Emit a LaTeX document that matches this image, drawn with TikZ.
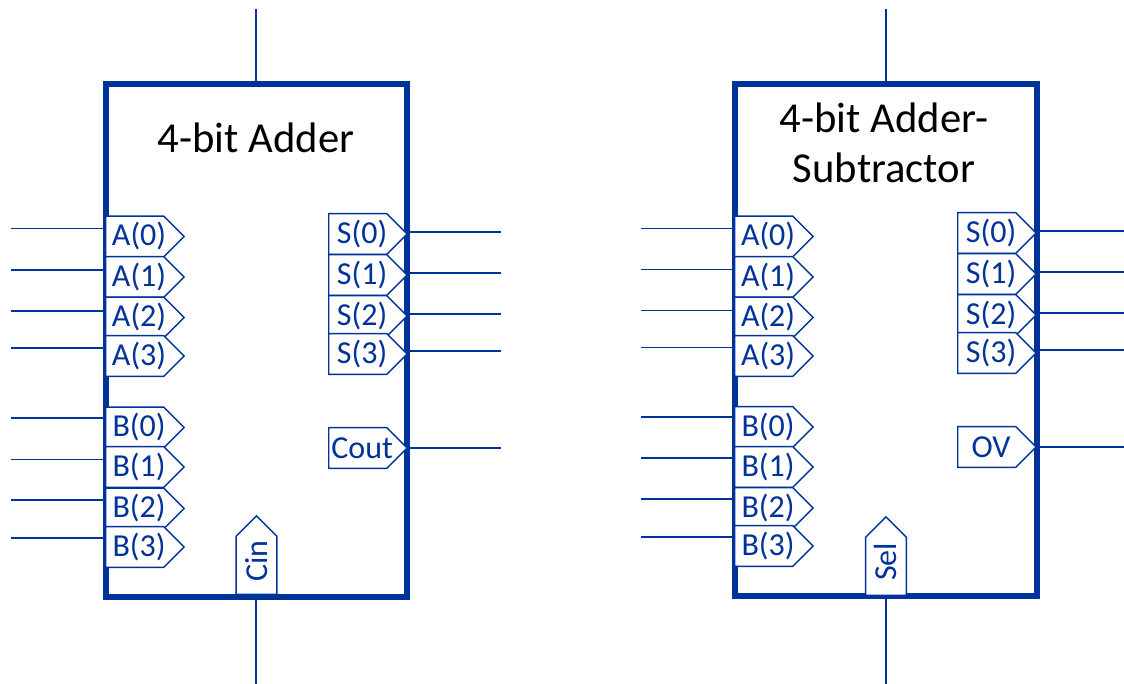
\documentclass[tikz,border=0pt]{standalone}
\usepackage{fontspec}
\setmainfont{Carlito}
\usetikzlibrary{shapes.symbols}

\definecolor{adderblue}{RGB}{0,51,153}
\newcommand{\pintext}[1]{\makebox[43.5pt]{\hspace{6.5pt}\rule[-1pt]{0pt}{18pt}#1}}
\tikzset{
	blockbox/.style={draw=adderblue,line width=4.5pt,minimum width=226pt,minimum height=384pt,inner sep=0pt},
	wire/.style={draw=adderblue,line width=1.1pt},
	pintag/.style={signal,signal to=east,signal from=nowhere,signal pointer angle=90,draw=adderblue,fill=white,line width=1.1pt,
		text=adderblue,font=\fontsize{24}{28}\selectfont,inner sep=0pt,minimum height=30.5pt,anchor=west},
	title/.style={text=black,align=center,font=\fontsize{32}{37.5}\selectfont}
}

\begin{document}
\begin{tikzpicture}[x=0.75pt,y=-0.75pt]
	\useasboundingbox (0,0) rectangle (1124,684);

	% 4-bit adder
	\node[blockbox] (adder) at (256.5,340.5) {};
	\node[title] (addertitle) at (256,138) {4-bit Adder};

	\coordinate (addertop) at (256,9);
	\coordinate (adderbot) at (256,684);
	\draw[wire] (addertop) -- (addertop |- adder.north);
	\draw[wire] (adderbot) -- (adderbot |- adder.south);

	\foreach \n/\y/\w in {0/236.5/228.5,1/277/270,2/317.5/311,3/356/348}
	{
		\coordinate (ina\n) at (11,\w);
		\draw[wire] (ina\n) -- (ina\n -| adder.west);
		\node[pintag] (a\n) at (105,\y) {\pintext{A(\n)}};
	}
	\foreach \n/\y/\w in {0/427.5/418,1/467/459.5,2/508.5/500,3/547/538}
	{
		\coordinate (inb\n) at (11,\w);
		\draw[wire] (inb\n) -- (inb\n -| adder.west);
		\node[pintag] (b\n) at (105,\y) {\pintext{B(\n)}};
	}
	\foreach \n/\y/\w in {0/234/232,1/275/273,2/316/314,3/354/351}
	{
		\coordinate (outs\n) at (500.5,\w);
		\draw[wire] (outs\n) -- (outs\n -| adder.east);
		\node[pintag] (s\n) at (328,\y) {\pintext{S(\n)}};
	}
	\coordinate (outcout) at (500.5,448);
	\draw[wire] (outcout) -- (outcout -| adder.east);
	\node[pintag] (cout) at (328,448) {\pintext{Cout}};
	\node[pintag,rotate=90] (cin) at (256.5,595) {\pintext{Cin}};

	% 4-bit adder-subtractor
	\node[blockbox] (addsub) at (886,340) {};
	\node[title] (addsubtitle) at (884,143) {4-bit Adder-\\Subtractor};

	\coordinate (addsubtop) at (886,9);
	\coordinate (addsubbot) at (886,684);
	\draw[wire] (addsubtop) -- (addsubtop |- addsub.north);
	\draw[wire] (addsubbot) -- (addsubbot |- addsub.south);

	\foreach \n/\y/\w in {0/236.5/228.5,1/277/269.5,2/317.5/310.5,3/356/347.5}
	{
		\coordinate (inx\n) at (641,\w);
		\draw[wire] (inx\n) -- (inx\n -| addsub.west);
		\node[pintag] (x\n) at (734,\y) {\pintext{A(\n)}};
	}
	\foreach \n/\y/\w in {0/427/417,1/467/458,2/508/499,3/546/537}
	{
		\coordinate (iny\n) at (641,\w);
		\draw[wire] (iny\n) -- (iny\n -| addsub.west);
		\node[pintag] (y\n) at (734,\y) {\pintext{B(\n)}};
	}
	\foreach \n/\y/\w in {0/233/231,1/274/272,2/315/313,3/353/350}
	{
		\coordinate (outd\n) at (1124,\w);
		\draw[wire] (outd\n) -- (outd\n -| addsub.east);
		\node[pintag] (d\n) at (957,\y) {\pintext{S(\n)}};
	}
	\coordinate (outov) at (1124,447);
	\draw[wire] (outov) -- (outov -| addsub.east);
	\node[pintag] (ov) at (957,447) {\pintext{OV}};
	\node[pintag,rotate=90] (sel) at (886,596) {\pintext{Sel}};
\end{tikzpicture}
\end{document}
